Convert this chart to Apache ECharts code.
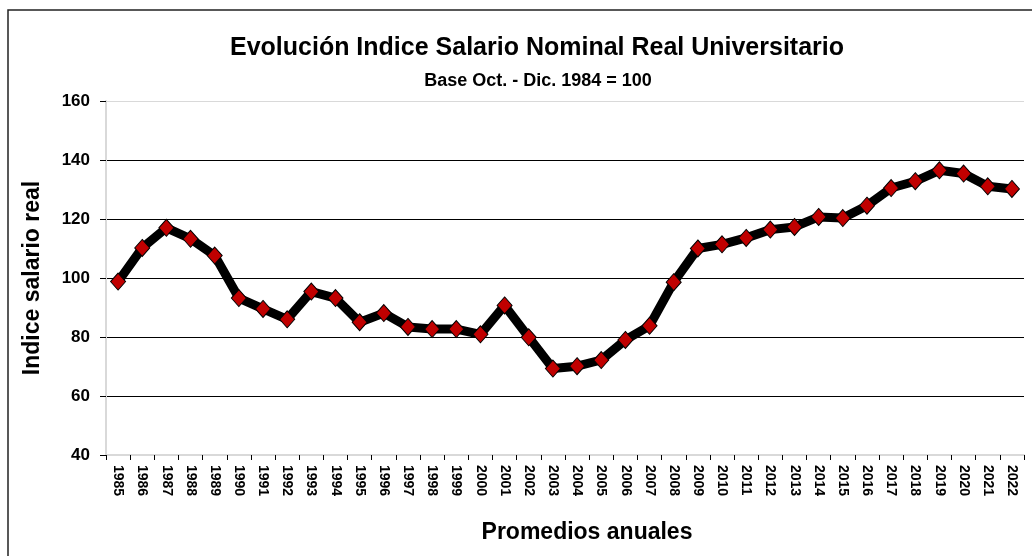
<!DOCTYPE html>
<html>
<head>
<meta charset="utf-8">
<script src="https://cdn.jsdelivr.net/npm/echarts@6/dist/echarts.min.js"></script>
<style>
  html, body { margin: 0; padding: 0; background: #fff; }
  #chart { width: 1032px; height: 556px; }
</style>
</head>
<body>
<div id="chart"></div>
<script>
// años (categorías del eje x)
var years = ['1985','1986','1987','1988','1989','1990','1991','1992','1993','1994',
             '1995','1996','1997','1998','1999','2000','2001','2002','2003','2004',
             '2005','2006','2007','2008','2009','2010','2011','2012','2013','2014',
             '2015','2016','2017','2018','2019','2020','2021','2022'];

// índice salario real (base Oct.-Dic. 1984 = 100)
var indice = [98.8, 110.2, 117.0, 113.3, 107.6, 93.2, 89.5, 86.0, 95.4, 93.2,
              85.0, 88.1, 83.4, 82.7, 82.7, 80.9, 90.7, 79.9, 69.3, 70.1,
              72.2, 79.0, 83.8, 98.6, 110.0, 111.4, 113.6, 116.4, 117.3, 120.7,
              120.3, 124.5, 130.5, 132.8, 136.5, 135.4, 131.1, 130.2];

// escala del eje y
var yMin = 40, yMax = 160, yStep = 20;

var font = '"Liberation Sans", Arial, sans-serif';

var myChart = echarts.init(document.getElementById('chart'));

var option = {
    backgroundColor: '#FFFFFF',
    animation: false,
    title: [{
        text: 'Evolución Indice Salario Nominal Real Universitario',
        left: 532,
        top: 31,
        textAlign: 'center',
        textStyle: { fontFamily: font, fontSize: 25, fontWeight: 'bold', color: '#000' }
    }, {
        text: 'Base Oct. - Dic. 1984 = 100',
        left: 533,
        top: 67,
        textAlign: 'center',
        textStyle: { fontFamily: font, fontSize: 18, fontWeight: 'bold', color: '#000' }
    }],
    // marco exterior
    graphic: [{
        type: 'rect',
        shape: { x: 8, y: 10, width: 1100, height: 600 },
        style: { fill: 'none', stroke: '#222', lineWidth: 1.5 },
        silent: true
    }],
    grid: {
        left: 106,
        right: 8,
        top: 101,
        bottom: 101
    },
    xAxis: {
        type: 'category',
        data: years,
        boundaryGap: true,
        name: 'Promedios anuales',
        nameLocation: 'middle',
        nameGap: 66,
        nameTextStyle: {
            fontFamily: font, fontSize: 23, fontWeight: 'bold', color: '#000',
            padding: [0, 0, 0, 44]
        },
        axisLine: { lineStyle: { color: '#d9d9d9', width: 2 } },
        axisTick: { show: true, length: 5, lineStyle: { color: '#000' } },
        axisLabel: {
            rotate: -90,
            interval: 0,
            margin: 10,
            fontFamily: font, fontSize: 14, fontWeight: 'bold', color: '#000'
        },
        splitLine: { show: false }
    },
    yAxis: {
        type: 'value',
        min: yMin,
        max: yMax,
        interval: yStep,
        name: 'Indice salario real',
        nameLocation: 'middle',
        nameGap: 62,
        nameTextStyle: { fontFamily: font, fontSize: 23, fontWeight: 'bold', color: '#000' },
        axisLine: { show: true, lineStyle: { color: '#d9d9d9', width: 2 } },
        axisTick: { show: true, length: 6, lineStyle: { color: '#000' } },
        axisLabel: {
            margin: 16,
            fontFamily: font, fontSize: 17, fontWeight: 'bold', color: '#000'
        },
        splitLine: {
            show: true,
            lineStyle: { color: ['#d9d9d9', '#000', '#000', '#000', '#000', '#000', '#d9d9d9'], width: 1.2 }
        }
    },
    series: [{
        name: 'Indice',
        type: 'line',
        data: indice,
        symbol: 'diamond',
        symbolSize: [15, 17],
        lineStyle: { color: '#000', width: 9 },
        itemStyle: { color: '#c00000', borderColor: '#000', borderWidth: 1 },
        z: 3
    }]
};

myChart.setOption(option);
</script>
</body>
</html>
